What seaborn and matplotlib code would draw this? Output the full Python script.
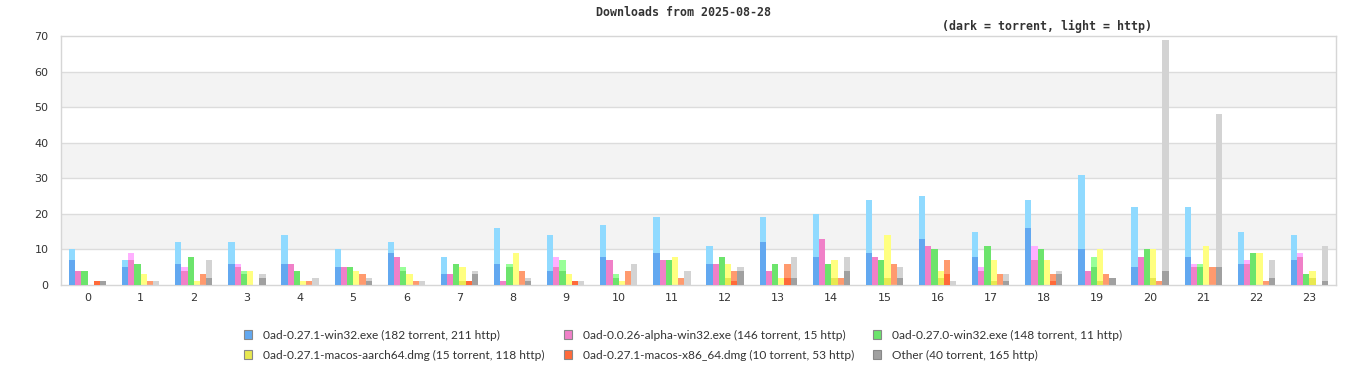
import numpy as np
import pandas as pd
import seaborn as sns
import matplotlib
matplotlib.use("Agg")
import matplotlib.pyplot as plt
from matplotlib.patches import Patch

hours = list(range(24))
series = [
    "0ad-0.27.1-win32.exe (182 torrent, 211 http)",
    "0ad-0.0.26-alpha-win32.exe (146 torrent, 15 http)",
    "0ad-0.27.0-win32.exe (148 torrent, 11 http)",
    "0ad-0.27.1-macos-aarch64.dmg (15 torrent, 118 http)",
    "0ad-0.27.1-macos-x86_64.dmg (10 torrent, 53 http)",
    "Other (40 torrent, 165 http)",
]

win32_torrent = [7, 5, 6, 6, 6, 5, 9, 3, 6, 4, 8, 9, 6, 12, 8, 9, 13, 8, 16, 10, 5, 8, 6, 7]
win32_http = [3, 2, 6, 6, 8, 5, 3, 5, 10, 10, 9, 10, 5, 7, 12, 15, 12, 7, 8, 21, 17, 14, 9, 7]
alpha26_torrent = [4, 7, 4, 5, 6, 5, 8, 3, 1, 5, 7, 7, 6, 4, 13, 8, 11, 4, 7, 4, 8, 5, 6, 8]
alpha26_http = [0, 2, 1, 1, 0, 0, 0, 0, 0, 3, 0, 0, 0, 0, 0, 0, 0, 1, 4, 0, 0, 1, 1, 1]
w270_torrent = [4, 6, 8, 3, 4, 5, 4, 6, 5, 4, 2, 7, 8, 6, 6, 7, 10, 11, 10, 5, 10, 5, 9, 3]
w270_http = [0, 0, 0, 1, 0, 0, 1, 0, 1, 3, 1, 0, 0, 0, 0, 0, 0, 0, 0, 3, 0, 1, 0, 0]
aarch_torrent = [0, 0, 0, 0, 0, 0, 0, 1, 0, 0, 0, 0, 2, 0, 2, 2, 2, 1, 0, 1, 2, 0, 0, 2]
aarch_http = [0, 3, 1, 4, 1, 4, 3, 4, 9, 3, 1, 8, 4, 2, 5, 12, 2, 6, 7, 9, 8, 11, 9, 2]
x86_torrent = [1, 0, 0, 0, 0, 0, 0, 1, 0, 1, 0, 0, 1, 2, 0, 0, 3, 0, 1, 0, 0, 0, 0, 0]
x86_http = [0, 1, 3, 0, 1, 3, 1, 0, 4, 0, 4, 2, 3, 4, 2, 6, 4, 3, 2, 3, 1, 5, 1, 0]
other_torrent = [1, 0, 2, 2, 0, 1, 0, 3, 1, 0, 0, 0, 4, 2, 4, 2, 0, 1, 3, 2, 4, 5, 2, 1]
other_http = [0, 1, 5, 1, 2, 1, 1, 1, 1, 1, 6, 4, 1, 6, 4, 3, 1, 2, 1, 0, 65, 43, 5, 10]

torrents = [win32_torrent, alpha26_torrent, w270_torrent, aarch_torrent, x86_torrent, other_torrent]
https = [win32_http, alpha26_http, w270_http, aarch_http, x86_http, other_http]

dark = ["#62a8f0", "#f080c8", "#6ce46c", "#e8e850", "#ff6a3a", "#a0a0a0"]
light = ["#90daff", "#ffb0ff", "#99ff99", "#ffff80", "#ff9a6e", "#d3d3d3"]

rows = []
for s, t, h in zip(series, torrents, https):
    for hr in hours:
        rows.append({"hour": str(hr), "series": s, "torrent": t[hr], "total": t[hr] + h[hr]})
df = pd.DataFrame(rows)

sns.set_theme(style="white")
plt.rcParams["font.family"] = ["DejaVu Sans"]

fig = plt.figure(figsize=(13.66, 3.8), dpi=100)
ax = fig.add_axes([61 / 1366, 1 - 285 / 380, (1336 - 61) / 1366, (285 - 36) / 380])

for lo in (10, 30, 50):
    ax.axhspan(lo, lo + 10, color="#f3f3f3", zorder=0, lw=0)
for y in range(10, 70, 10):
    ax.axhline(y, color="#dcdcdc", lw=1, zorder=0.5)

order = [str(h) for h in hours]
sns.barplot(data=df, x="hour", y="total", hue="series", hue_order=series, order=order,
            palette=light, width=0.7, gap=0, saturation=1, errorbar=None,
            linewidth=0, legend=False, ax=ax, zorder=2)
sns.barplot(data=df, x="hour", y="torrent", hue="series", hue_order=series, order=order,
            palette=dark, width=0.7, gap=0, saturation=1, errorbar=None,
            linewidth=0, legend=False, ax=ax, zorder=3)

ax.set_xlim(-0.5, 23.5)
ax.set_ylim(0, 70)
ax.set_yticks(range(0, 71, 10))
ax.set_xlabel("")
ax.set_ylabel("")
for sp in ax.spines.values():
    sp.set_color("#d6d6d6")
    sp.set_linewidth(1)
ax.tick_params(axis="both", length=0, labelsize=8, colors="#333333")
ax.tick_params(axis="y", pad=9)
ax.tick_params(axis="x", pad=6)

fig.text(0.5, 1 - 13 / 380, "Downloads from 2025-08-28", ha="center", va="center",
         family="DejaVu Sans Mono", weight="bold", fontsize=8.4, color="#333333")
fig.text(1047.5 / 1366, 1 - 26 / 380, "(dark = torrent, light = http)", ha="center", va="center",
         family="DejaVu Sans Mono", weight="bold", fontsize=8.4, color="#333333")

handles = [Patch(facecolor=c, edgecolor="#888888", linewidth=0.8) for c in dark]
# matplotlib fills legend column-wise; reorder so rows read left-to-right
idx = [0, 3, 1, 4, 2, 5]
fig.legend([handles[i] for i in idx], [series[i] for i in idx], loc="center",
           bbox_to_anchor=(0.5, 1 - 345 / 380), ncol=3,
           frameon=False, prop={"family": "Lato", "size": 8.6},
           handlelength=0.7, handleheight=0.7, handletextpad=0.9, columnspacing=1.6,
           labelspacing=0.75, labelcolor="#333333")

fig.savefig("out.png", dpi=100)
